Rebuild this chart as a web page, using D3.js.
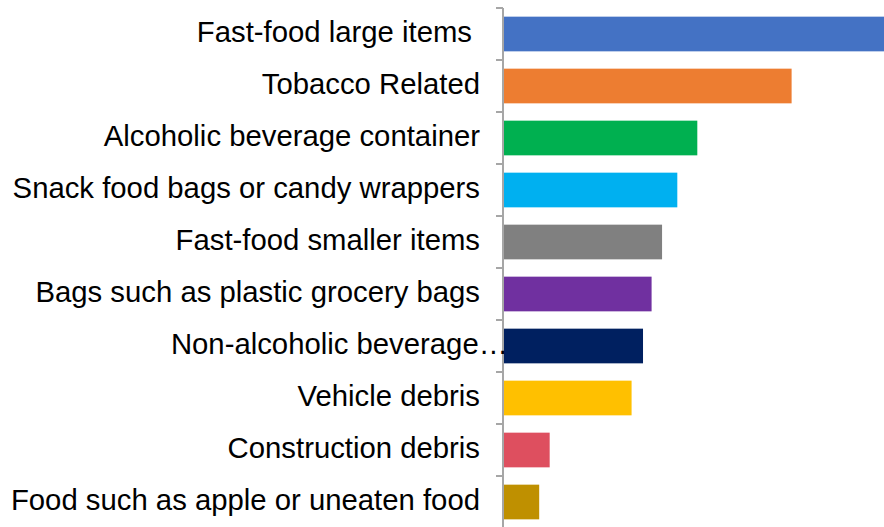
<!DOCTYPE html>
<html>
<head>
<meta charset="utf-8">
<script src="https://cdn.jsdelivr.net/npm/d3@7"></script>
<style>
  body { margin: 0; background: #fff; }
  svg { display: block; }
</style>
</head>
<body>
<div id="chart"></div>
<script>
const categories = [
  "Fast-food large items",
  "Tobacco Related",
  "Alcoholic beverage container",
  "Snack food bags or candy wrappers",
  "Fast-food smaller items",
  "Bags such as plastic grocery bags",
  "Non-alcoholic beverage…",
  "Vehicle debris",
  "Construction debris",
  "Food such as apple or uneaten food"
];
const values = [40, 30.3, 20.4, 18.3, 16.7, 15.6, 14.7, 13.5, 4.9, 3.8];
const colors = ["#4472C4", "#ED7D31", "#00B050", "#00B0F0", "#808080",
                "#7030A0", "#002060", "#FFC000", "#DE4F5F", "#BF9000"];

const width = 884;
const height = 527;
const left = 503;

const svg = d3.select("#chart")
  .append("svg")
  .attr("width", width)
  .attr("height", height);

const x = d3.scaleLinear()
  .domain([0, 40])
  .range([left, 884]);

const y = d3.scaleBand()
  .domain(categories)
  .range([8, 528])
  .paddingInner(0.333)
  .paddingOuter(0.1665);

svg.selectAll("rect")
  .data(categories)
  .join("rect")
  .attr("x", x(0))
  .attr("y", d => y(d))
  .attr("width", (d, i) => x(values[i]) - x(0))
  .attr("height", y.bandwidth())
  .attr("fill", (d, i) => colors[i]);

// category axis: line + ticks between bands
const step = y.step();
const tickYs = d3.range(categories.length + 1).map(i => 8 + i * step);

svg.append("line")
  .attr("x1", left).attr("x2", left)
  .attr("y1", 8).attr("y2", height)
  .attr("stroke", "#A6A6A6")
  .attr("stroke-width", 2);

svg.selectAll(".tick")
  .data(tickYs)
  .join("line")
  .attr("class", "tick")
  .attr("x1", left - 7).attr("x2", left)
  .attr("y1", d => d).attr("y2", d => d)
  .attr("stroke", "#A6A6A6")
  .attr("stroke-width", 2);

svg.selectAll(".label")
  .data(categories)
  .join("text")
  .attr("class", "label")
  .attr("x", (d, i) => d.endsWith("…") ? left + 5 : (i === 0 ? 472 : 480))
  .attr("y", d => y(d) + y.bandwidth() / 2)
  .attr("dy", "0.28em")
  .style("text-anchor", "end")
  .style("font-family", "'Liberation Sans', Arial, Helvetica, sans-serif")
  .style("font-size", "29.3px")
  .style("fill", "#000")
  .text(d => d);
</script>
</body>
</html>
